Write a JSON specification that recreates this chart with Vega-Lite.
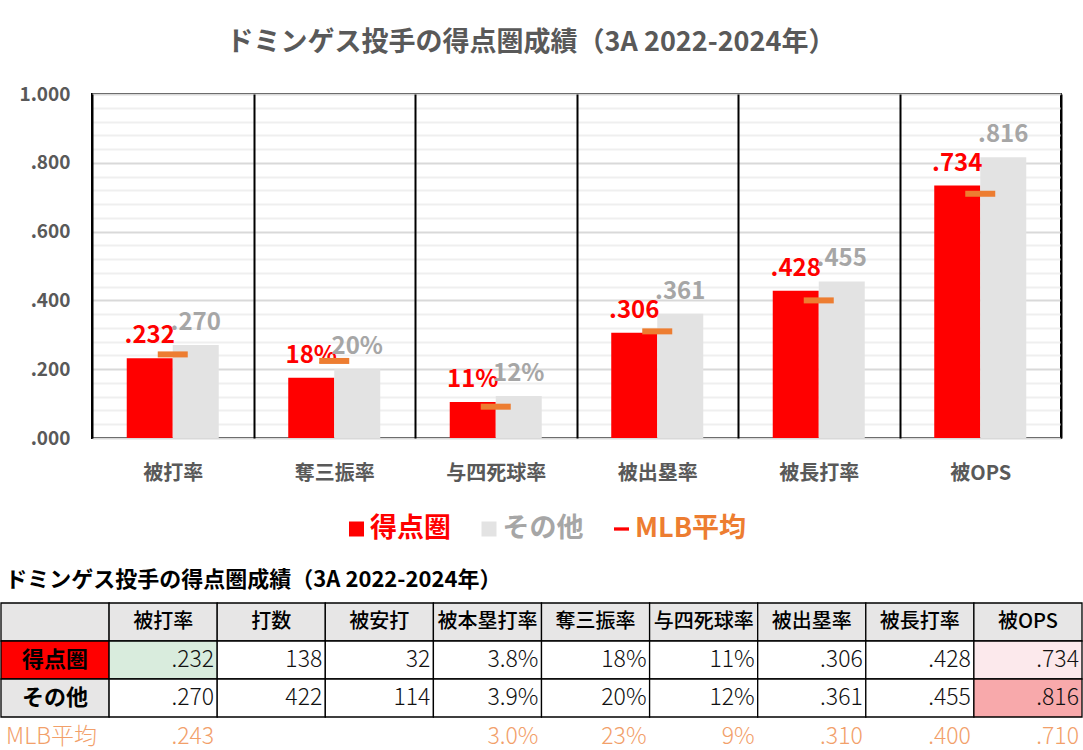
{
  "$schema": "https://vega.github.io/schema/vega-lite/v6.json",
  "padding": {"left": 0, "top": 28, "right": 0, "bottom": 0},
  "background": "white",
  "config": {"font": "Noto Sans CJK JP", "view": {"stroke": null}},
  "datasets": {
    "bars": [
      {"metric": "被打率", "series": "得点圏", "value": 0.232, "label": ".232"},
      {"metric": "被打率", "series": "その他", "value": 0.270, "label": ".270"},
      {"metric": "奪三振率", "series": "得点圏", "value": 0.175, "label": "18%"},
      {"metric": "奪三振率", "series": "その他", "value": 0.200, "label": "20%"},
      {"metric": "与四死球率", "series": "得点圏", "value": 0.105, "label": "11%"},
      {"metric": "与四死球率", "series": "その他", "value": 0.122, "label": "12%"},
      {"metric": "被出塁率", "series": "得点圏", "value": 0.306, "label": ".306"},
      {"metric": "被出塁率", "series": "その他", "value": 0.361, "label": ".361"},
      {"metric": "被長打率", "series": "得点圏", "value": 0.428, "label": ".428"},
      {"metric": "被長打率", "series": "その他", "value": 0.455, "label": ".455"},
      {"metric": "被OPS", "series": "得点圏", "value": 0.734, "label": ".734"},
      {"metric": "被OPS", "series": "その他", "value": 0.816, "label": ".816"}
    ],
    "mlb": [
      {"metric": "被打率", "value": 0.243},
      {"metric": "奪三振率", "value": 0.224},
      {"metric": "与四死球率", "value": 0.091},
      {"metric": "被出塁率", "value": 0.310},
      {"metric": "被長打率", "value": 0.400},
      {"metric": "被OPS", "value": 0.710}
    ],
    "legend": [
      {"key": "得点圏"},
      {"key": "その他"},
      {"key": "MLB平均"}
    ],
    "table": [
      {"row": "header", "col": "_", "text": ""},
      {"row": "header", "col": "被打率", "text": "被打率"},
      {"row": "header", "col": "打数", "text": "打数"},
      {"row": "header", "col": "被安打", "text": "被安打"},
      {"row": "header", "col": "被本塁打率", "text": "被本塁打率"},
      {"row": "header", "col": "奪三振率", "text": "奪三振率"},
      {"row": "header", "col": "与四死球率", "text": "与四死球率"},
      {"row": "header", "col": "被出塁率", "text": "被出塁率"},
      {"row": "header", "col": "被長打率", "text": "被長打率"},
      {"row": "header", "col": "被OPS", "text": "被OPS"},
      {"row": "得点圏", "col": "_", "text": "得点圏"},
      {"row": "得点圏", "col": "被打率", "text": ".232"},
      {"row": "得点圏", "col": "打数", "text": "138"},
      {"row": "得点圏", "col": "被安打", "text": "32"},
      {"row": "得点圏", "col": "被本塁打率", "text": "3.8%"},
      {"row": "得点圏", "col": "奪三振率", "text": "18%"},
      {"row": "得点圏", "col": "与四死球率", "text": "11%"},
      {"row": "得点圏", "col": "被出塁率", "text": ".306"},
      {"row": "得点圏", "col": "被長打率", "text": ".428"},
      {"row": "得点圏", "col": "被OPS", "text": ".734"},
      {"row": "その他", "col": "_", "text": "その他"},
      {"row": "その他", "col": "被打率", "text": ".270"},
      {"row": "その他", "col": "打数", "text": "422"},
      {"row": "その他", "col": "被安打", "text": "114"},
      {"row": "その他", "col": "被本塁打率", "text": "3.9%"},
      {"row": "その他", "col": "奪三振率", "text": "20%"},
      {"row": "その他", "col": "与四死球率", "text": "12%"},
      {"row": "その他", "col": "被出塁率", "text": ".361"},
      {"row": "その他", "col": "被長打率", "text": ".455"},
      {"row": "その他", "col": "被OPS", "text": ".816"}
    ],
    "mlbrow": [
      {"col": "_", "text": "MLB平均"},
      {"col": "被打率", "text": ".243"},
      {"col": "被本塁打率", "text": "3.0%"},
      {"col": "奪三振率", "text": "23%"},
      {"col": "与四死球率", "text": "9%"},
      {"col": "被出塁率", "text": ".310"},
      {"col": "被長打率", "text": ".400"},
      {"col": "被OPS", "text": ".710"}
    ]
  },
  "spacing": 25,
  "vconcat": [
    {
      "spacing": 30,
      "vconcat": [
        {
          "width": 969,
          "height": 344,
          "view": {"stroke": "black", "strokeWidth": 2},
          "title": {"text": "ドミンゲス投手の得点圏成績（3A 2022-2024年）", "fontSize": 27, "fontWeight": "bold", "color": "#595959", "anchor": "middle", "frame": "bounds", "offset": 28},
          "resolve": {"axis": {"y": "independent"}},
          "encoding": {
            "x": {
              "field": "metric", "type": "nominal",
              "sort": ["被打率", "奪三振率", "与四死球率", "被出塁率", "被長打率", "被OPS"],
              "scale": {"paddingInner": 0, "paddingOuter": 0},
              "axis": {"title": null, "orient": "bottom", "zindex": 1, "labelAngle": 0, "labelFontSize": 20, "labelFontWeight": "bold", "labelColor": "#595959", "labelPadding": 25, "ticks": false, "tickSize": 0, "domain": false, "grid": true, "tickBand": "extent", "gridColor": "black", "gridWidth": 2, "gridOpacity": 1}
            }
          },
          "layer": [
            {
              "data": {"name": "bars"},
              "mark": {"type": "bar"},
              "encoding": {
                "xOffset": {"field": "series", "type": "nominal", "sort": ["得点圏", "その他"], "scale": {"domain": ["得点圏", "その他"], "paddingInner": 0, "paddingOuter": 0.755}},
                "y": {
                  "field": "value", "type": "quantitative",
                  "scale": {"domain": [0, 1], "nice": false, "zero": true},
                  "axis": {
                    "title": null, "orient": "left",
                    "values": [0, 0.2, 0.4, 0.6, 0.8, 1],
                    "format": ".3f",
                    "labelExpr": "datum.value >= 0.999 ? datum.label : slice(datum.label, 1)",
                    "labelOverlap": false,
                    "labelFontSize": 19, "labelFontWeight": "bold", "labelColor": "#595959", "labelPadding": 22,
                    "ticks": false, "tickSize": 0, "domain": false, "minExtent": 91,
                    "grid": true, "gridWidth": 2, "gridColor": "#d9d9d9"
                  }
                },
                "color": {
                  "field": "series", "type": "nominal",
                  "scale": {"domain": ["得点圏", "その他"], "range": ["#ff0000", "#e3e3e3"]},
                  "legend": null
                }
              }
            },
            {
              "data": {"name": "bars"},
              "mark": {"type": "text", "fontSize": 24, "fontWeight": "bold", "baseline": "alphabetic", "dy": -15},
              "encoding": {
                "xOffset": {"field": "series", "type": "nominal", "sort": ["得点圏", "その他"]},
                "y": {"field": "value", "type": "quantitative", "axis": null},
                "text": {"field": "label"},
                "color": {"condition": {"test": "datum.series === '得点圏'", "value": "#ff0000"}, "value": "#a6a6a6"}
              }
            },
            {
              "data": {"name": "mlb"},
              "mark": {"type": "tick", "thickness": 6, "size": 30, "color": "#ed7d31", "opacity": 1},
              "encoding": {
                "y": {
                  "field": "value", "type": "quantitative",
                  "axis": {
                    "title": null, "orient": "right",
                    "values": [0.04, 0.08, 0.12, 0.16, 0.24, 0.28, 0.32, 0.36, 0.44, 0.48, 0.52, 0.56, 0.64, 0.68, 0.72, 0.76, 0.84, 0.88, 0.92, 0.96],
                    "labels": false, "ticks": false, "domain": false, "minExtent": 0, "maxExtent": 0,
                    "grid": true, "gridWidth": 2, "gridColor": "#efefef"
                  }
                }
              }
            }
          ]
        },
        {
          "width": 992,
          "height": 30,
          "data": {"name": "legend"},
          "encoding": {
            "x": {"field": "key", "type": "nominal", "sort": ["得点圏", "その他", "MLB平均"], "scale": {"type": "point", "domain": ["得点圏", "その他", "MLB平均"], "range": [257, 522], "padding": 0}, "axis": null}
          },
          "layer": [
            {
              "mark": {"type": "point", "filled": true, "size": 225, "opacity": 1, "xOffset": 7.5},
              "encoding": {
                "shape": {"field": "key", "type": "nominal", "scale": {"domain": ["得点圏", "その他", "MLB平均"], "range": ["square", "square", "M-1,-0.22H1V0.22H-1Z"]}, "legend": null},
                "color": {"field": "key", "type": "nominal", "scale": {"domain": ["得点圏", "その他", "MLB平均"], "range": ["#ff0000", "#e3e3e3", "#ed7d31"]}, "legend": null}
              }
            },
            {
              "mark": {"type": "text", "align": "left", "dx": 21, "fontSize": 27, "fontWeight": "bold"},
              "encoding": {
                "text": {"field": "key"},
                "color": {"condition": [{"test": "datum.key === '得点圏'", "value": "#ff0000"}, {"test": "datum.key === 'その他'", "value": "#a6a6a6"}], "value": "#ed7d31"}
              }
            }
          ]
        }
      ]
    },
    {
      "spacing": 0,
      "vconcat": [
        {
          "width": 990,
          "height": 114,
          "title": {"text": "ドミンゲス投手の得点圏成績（3A 2022-2024年）", "anchor": "start", "frame": "bounds", "fontSize": 22, "fontWeight": "bold", "color": "black", "offset": 10, "dx": 5},
          "data": {"name": "table"},
          "encoding": {
            "x": {"field": "col", "type": "nominal", "sort": ["_", "被打率", "打数", "被安打", "被本塁打率", "奪三振率", "与四死球率", "被出塁率", "被長打率", "被OPS"], "scale": {"type": "band", "domain": ["_", "被打率", "打数", "被安打", "被本塁打率", "奪三振率", "与四死球率", "被出塁率", "被長打率", "被OPS"], "range": [-91, 990], "paddingInner": 0, "paddingOuter": 0}, "axis": null},
            "y": {"field": "row", "type": "nominal", "scale": {"domain": ["header", "得点圏", "その他"], "paddingInner": 0, "paddingOuter": 0}, "axis": null}
          },
          "layer": [
            {
              "mark": {"type": "rect", "stroke": "black", "strokeWidth": 1.3},
              "encoding": {
                "color": {
                  "condition": [
                    {"test": "datum.row === '得点圏' && datum.col === '_'", "value": "#ff0000"},
                    {"test": "datum.row === 'header' || datum.col === '_'", "value": "#e7e6e6"},
                    {"test": "datum.row === '得点圏' && datum.col === '被打率'", "value": "#d9ecdd"},
                    {"test": "datum.row === '得点圏' && datum.col === '被OPS'", "value": "#fce9ec"},
                    {"test": "datum.row === 'その他' && datum.col === '被OPS'", "value": "#f8a9ab"}
                  ],
                  "value": "white"
                }
              }
            },
            {
              "transform": [{"filter": "datum.row === 'header'"}],
              "mark": {"type": "text", "fontSize": 20, "fontWeight": 500, "color": "black"},
              "encoding": {"text": {"field": "text"}}
            },
            {
              "transform": [{"filter": "datum.row !== 'header' && datum.col === '_'"}],
              "mark": {"type": "text", "fontSize": 22, "fontWeight": "bold", "color": "black"},
              "encoding": {"text": {"field": "text"}}
            },
            {
              "transform": [{"filter": "datum.row !== 'header' && datum.col !== '_'"}],
              "mark": {"type": "text", "fontSize": 23, "fontWeight": 300, "color": "#111111", "align": "right", "dx": 51},
              "encoding": {"text": {"field": "text"}}
            }
          ]
        },
        {
          "width": 990,
          "height": 38,
          "data": {"name": "mlbrow"},
          "encoding": {
            "x": {"field": "col", "type": "nominal", "sort": ["_", "被打率", "打数", "被安打", "被本塁打率", "奪三振率", "与四死球率", "被出塁率", "被長打率", "被OPS"], "scale": {"type": "band", "domain": ["_", "被打率", "打数", "被安打", "被本塁打率", "奪三振率", "与四死球率", "被出塁率", "被長打率", "被OPS"], "range": [-91, 990], "paddingInner": 0, "paddingOuter": 0}, "axis": null}
          },
          "layer": [
            {
              "transform": [{"filter": "datum.col === '_'"}],
              "mark": {"type": "text", "fontSize": 23, "fontWeight": 300, "color": "#f2a06a", "align": "left", "dx": -49},
              "encoding": {"text": {"field": "text"}}
            },
            {
              "transform": [{"filter": "datum.col !== '_'"}],
              "mark": {"type": "text", "fontSize": 23, "fontWeight": 300, "color": "#f2a06a", "align": "right", "dx": 51},
              "encoding": {"text": {"field": "text"}}
            }
          ]
        }
      ]
    }
  ]
}
